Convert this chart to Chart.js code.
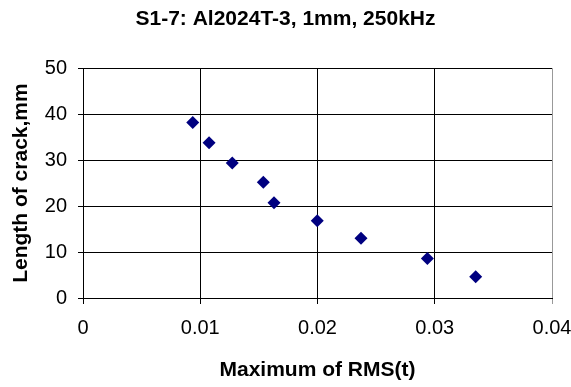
<!DOCTYPE html>
<html>
<head>
<meta charset="utf-8">
<script src="https://cdn.jsdelivr.net/npm/chart.js@4/dist/chart.umd.min.js"></script>
<style>
  html, body { margin: 0; padding: 0; background: #fff; }
  #wrap { width: 571px; height: 387px; }
</style>
</head>
<body>
<div id="wrap"><canvas id="crackChart" width="571" height="387"></canvas></div>
<script>
const rmsMax = [0.00936, 0.01075, 0.01273, 0.01538, 0.01629, 0.01998, 0.02371, 0.02937, 0.03349];
const crackLength = [38.2, 33.8, 29.4, 25.2, 20.7, 16.8, 13.0, 8.6, 4.6];

const chartTitle = "S1-7: Al2024T-3, 1mm, 250kHz";
const xTitle = "Maximum of RMS(t)";
const yTitle = "Length of crack,mm";

const FONT = "'Liberation Sans', Arial, sans-serif";

const points = rmsMax.map((x, i) => ({ x: x, y: crackLength[i] }));

const ctx = document.getElementById("crackChart").getContext("2d");
new Chart(ctx, {
  type: "scatter",
  data: {
    datasets: [{
      label: "S1-7",
      data: points,
      pointStyle: "rectRot",
      pointRadius: 6.5,
      pointHoverRadius: 6.5,
      backgroundColor: "#000080",
      borderColor: "#000080",
      borderWidth: 0
    }]
  },
  options: {
    responsive: false,
    animation: false,
    layout: { padding: { left: 0, right: 0, top: 0, bottom: 0 } },
    plugins: {
      legend: { display: false },
      tooltip: { enabled: false },
      title: {
        display: true,
        text: chartTitle,
        color: "#000",
        font: { family: FONT, size: 21, weight: "bold" },
        padding: { top: 7, bottom: 36 }
      }
    },
    scales: {
      x: {
        type: "linear",
        min: 0,
        max: 0.04,
        afterFit: (scale) => {
          scale.height = 89;
          // Platz rechts wie im Original (Label 0.04 ragt ueber den Rand)
          scale.paddingRight = 19;
          scale.paddingLeft = 0;
        },
        ticks: {
          stepSize: 0.01,
          color: "#000",
          font: { family: FONT, size: 20 },
          padding: 12,
          maxRotation: 0,
          callback: (v) => String(Math.round(v * 100) / 100)
        },
        grid: {
          color: (c) => (c.tick && c.tick.value >= 0.04 ? "#999" : "#000"),
          lineWidth: 1,
          tickLength: 6,
          drawTicks: true
        },
        border: { display: true, color: "#000", width: 1 },
        title: {
          display: true,
          text: xTitle,
          color: "#000",
          font: { family: FONT, size: 21, weight: "bold" },
          padding: { top: 4, bottom: 4 }
        }
      },
      y: {
        type: "linear",
        min: 0,
        max: 50,
        afterFit: (scale) => { scale.width = 83; },
        ticks: {
          stepSize: 10,
          color: "#000",
          font: { family: FONT, size: 20 },
          padding: 11
        },
        grid: {
          color: "#000",
          lineWidth: 1,
          tickLength: 5
        },
        border: { display: true, color: "#000", width: 1 },
        title: {
          display: true,
          text: yTitle,
          color: "#000",
          font: { family: FONT, size: 21, weight: "bold" },
          padding: { top: 9, bottom: 9 }
        }
      }
    }
  }
});
</script>
</body>
</html>
